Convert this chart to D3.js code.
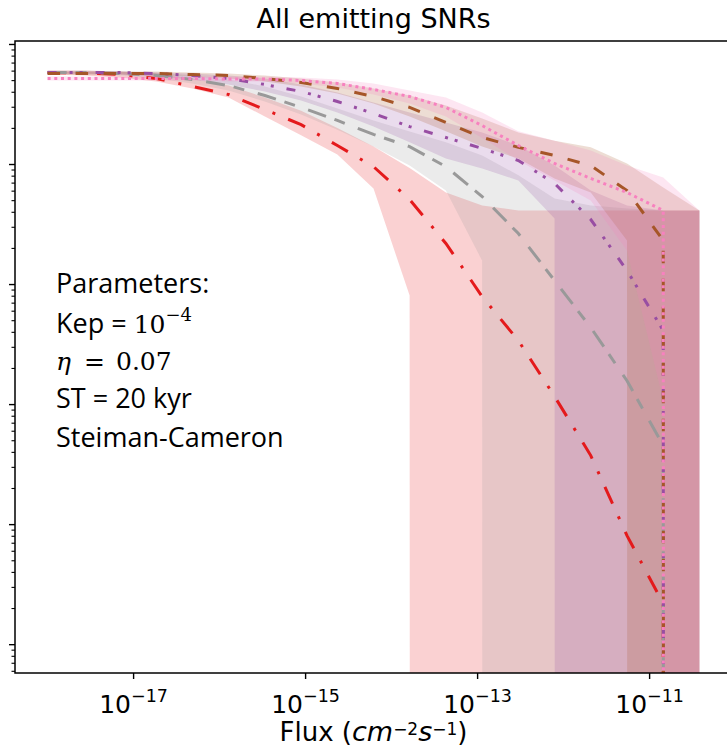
<!DOCTYPE html>
<html>
<head>
<meta charset="utf-8">
<script src="https://cdn.jsdelivr.net/npm/d3@7"></script>
<style>
  body { margin: 0; background: #fff; }
  text { fill: #000; }
</style>
</head>
<body>
<svg id="chart" width="727" height="748"></svg>
<script>
// Flux grid (cm^-2 s^-1)
const flux = [1.00e-18, 2.64e-18, 6.95e-18, 1.83e-17, 4.83e-17, 1.27e-16, 3.36e-16, 8.86e-16,
  2.34e-15, 6.16e-15, 1.62e-14, 4.28e-14, 1.13e-13, 2.98e-13, 7.85e-13, 2.07e-12,
  5.46e-12, 1.44e-11, 3.79e-11];

// Cumulative counts N(>F): mean and band limits for each model curve
const redMean = [584, 579, 562, 521, 447, 383, 287, 215, 144, 96, 51.1, 22.0, 7.94, 3.41, 1.17, 0.376, 0.081, 0.022, 0];
const redLow  = [562, 552, 531, 492, 430, 362, 251, 175, 121, 63.1, 8.1, 0, 0, 0, 0, 0, 0, 0, 0];
const redHigh = [608, 608, 596, 573, 521, 455, 362, 281, 201, 141, 93.5, 58.4, 45.6, 41.4, 41.4, 41.4, 41.4, 41.4, 41.4];

const grayMean = [584, 584, 573, 552, 511, 455, 376, 299, 233, 178, 141, 96, 54.1, 26.6, 10.8, 4.38, 1.58, 0.455, 0];
const grayLow  = [562, 562, 552, 521, 473, 414, 335, 261, 195, 141, 98, 60.7, 15.8, 0, 0, 0, 0, 0, 0];
const grayHigh = [608, 608, 596, 584, 552, 511, 447, 369, 293, 233, 188, 153, 119, 81.3, 52.1, 45.6, 43.0, 41.4, 41.4];

const purpleMean = [584, 584, 584, 573, 552, 521, 464, 406, 335, 266, 207, 168, 136, 108, 69.5, 34.8, 13.1, 4.14, 0];
const purpleLow  = [573, 573, 562, 541, 511, 464, 406, 341, 271, 207, 153, 112, 92.6, 73.6, 35.5, 0, 0, 0, 0];
const purpleHigh = [596, 596, 596, 584, 573, 552, 521, 464, 398, 328, 271, 224, 185, 144, 98, 60.7, 45.6, 41.4, 41.4];

const brownMean = [573, 573, 573, 573, 562, 552, 521, 482, 430, 369, 299, 224, 168, 139, 119, 98, 60.7, 23.3, 0];
const brownLow  = [562, 562, 562, 552, 541, 521, 492, 447, 391, 322, 251, 189, 141, 112, 76.6, 58.4, 23.3, 0, 0];
const brownHigh = [596, 596, 596, 596, 584, 573, 552, 521, 482, 430, 376, 310, 242, 185, 158, 139, 102, 64.3, 41.4];

const pinkMean = [521, 521, 521, 521, 521, 516, 516, 501, 473, 422, 369, 299, 211, 144, 102, 76.6, 58.4, 41.4, 0];
const pinkLow  = [501, 501, 501, 501, 501, 492, 492, 473, 438, 383, 322, 251, 166, 108, 73.6, 50.1, 19.2, 1.08, 0];
const pinkHigh = [541, 541, 541, 541, 541, 541, 541, 531, 511, 473, 414, 362, 271, 189, 158, 131, 98, 77.9, 41.4];

const xTickExponents = [-17, -15, -13, -11];
const yTickExponents = [-3, -2, -1, 0, 1, 2, 3];

const series = [
  { mean: redMean,    low: redLow,    high: redHigh,    color: "#e41a1c", dash: "18.5,14,3,14" },
  { mean: grayMean,   low: grayLow,   high: grayHigh,   color: "#999999", dash: "19,9,11,14" },
  { mean: purpleMean, low: purpleLow, high: purpleHigh, color: "#984ea3", dash: "9,13,3,7,3,13" },
  { mean: brownMean,  low: brownLow,  high: brownHigh,  color: "#a65628", dash: "12.5,15.5" },
  { mean: pinkMean,   low: pinkLow,   high: pinkHigh,   color: "#f781bf", dash: "3,3.7" }
];

const params = ["Parameters:", "Kep = ", "η = 0.07", "ST = 20 kyr", "Steiman-Cameron"];

// ---- layout ----
const svg = d3.select("#chart");
const plotLeft = 15, plotTop = 41, plotW = 717, plotH = 632;
const sansFont = "'Open Sans', 'Noto Sans', sans-serif";
const mathFont = "'DejaVu Sans', sans-serif";
const serifFont = "'DejaVu Serif', serif";

const x = d3.scaleLog().domain([Math.pow(10, -18.379), Math.pow(10, -10.042)]).range([0, plotW]);
const y = d3.scaleLog().domain([Math.pow(10, -2.236), Math.pow(10, 3.029)]).range([plotH, 0]);
// non-positive values are clipped far below the axis, as on a log axis
const yPos = v => v > 0 ? y(v) : plotH + 1e5;

const g = svg.append("g").attr("transform", `translate(${plotLeft},${plotTop})`);

g.append("clipPath").attr("id", "plotClip")
  .append("rect").attr("width", plotW).attr("height", plotH);

const body = g.append("g").attr("clip-path", "url(#plotClip)");

const area = d3.area()
  .x((d, i) => x(flux[i]))
  .y0(d => yPos(d.lo))
  .y1(d => yPos(d.hi));

const line = d3.line()
  .x((d, i) => x(flux[i]))
  .y(d => yPos(d));

series.forEach(s => {
  const pts = s.low.map((lo, i) => ({ lo, hi: s.high[i] }));
  body.append("path")
    .attr("d", area(pts))
    .attr("fill", s.color)
    .attr("fill-opacity", 0.2)
    .attr("stroke", "none");
});

series.forEach(s => {
  body.append("path")
    .attr("d", line(s.mean))
    .attr("fill", "none")
    .attr("stroke", s.color)
    .attr("stroke-width", 3)
    .attr("stroke-dasharray", s.dash);
});

// ---- axes ----
// y ticks: decades and 2..9 minor ticks, no labels
const yDomain = y.domain();
const yMinor = [];
yTickExponents.forEach(e => {
  for (let m = 2; m <= 9; m++) {
    const v = m * Math.pow(10, e);
    if (v >= yDomain[0] && v <= yDomain[1]) yMinor.push(v);
  }
});
const yMajor = yTickExponents.map(e => Math.pow(10, e)).filter(v => v >= yDomain[0] && v <= yDomain[1]);

g.append("g").selectAll("line").data(yMinor).join("line")
  .attr("x1", -3.5).attr("x2", 0)
  .attr("y1", d => y(d)).attr("y2", d => y(d))
  .attr("stroke", "#000").attr("stroke-width", 1.1);
g.append("g").selectAll("line").data(yMajor).join("line")
  .attr("x1", -6).attr("x2", 0)
  .attr("y1", d => y(d)).attr("y2", d => y(d))
  .attr("stroke", "#000").attr("stroke-width", 1.4);

// x ticks every second decade
const xTicks = g.append("g").attr("transform", `translate(0,${plotH})`);
xTicks.selectAll("line").data(xTickExponents).join("line")
  .attr("x1", d => x(Math.pow(10, d))).attr("x2", d => x(Math.pow(10, d)))
  .attr("y1", 0).attr("y2", 6)
  .attr("stroke", "#000").attr("stroke-width", 1.4);

const xLabels = xTicks.selectAll("text").data(xTickExponents).join("text")
  .attr("x", d => x(Math.pow(10, d)))
  .attr("y", 40)
  .attr("text-anchor", "middle")
  .style("font-family", mathFont)
  .style("font-size", "25px");
xLabels.append("tspan").text("10");
xLabels.append("tspan").attr("dy", -11).style("font-size", "17.5px").text(d => "−" + Math.abs(d));

// frame
g.append("rect")
  .attr("width", plotW).attr("height", plotH)
  .attr("fill", "none").attr("stroke", "#000").attr("stroke-width", 1.5);

// ---- titles ----
svg.append("text")
  .attr("x", plotLeft + plotW / 2).attr("y", 28)
  .attr("text-anchor", "middle")
  .style("font-family", "'DejaVu Sans', sans-serif")
  .style("font-size", "27px")
  .text("All emitting SNRs");

const xt = svg.append("text")
  .attr("x", plotLeft + plotW / 2).attr("y", 741)
  .attr("text-anchor", "middle")
  .style("font-family", mathFont)
  .style("font-size", "26px");
xt.append("tspan").text("Flux (");
xt.append("tspan").style("font-style", "italic").style("font-size", "27px").text("cm");
xt.append("tspan").attr("dy", -6).style("font-size", "17px").text("−2");
xt.append("tspan").attr("dy", 6).style("font-style", "italic").style("font-size", "27px").text("s");
xt.append("tspan").attr("dy", -6).style("font-size", "17px").text("−1");
xt.append("tspan").attr("dy", 6).text(")");

// ---- parameter annotation ----
const note = svg.append("g").style("font-family", sansFont).style("font-size", "27px");
const baselines = [293, 333, 370, 408, 447];

note.append("text").attr("x", 56).attr("y", baselines[0]).text(params[0]);

const kep = note.append("text").attr("x", 56).attr("y", baselines[1]);
kep.append("tspan").text(params[1]);
kep.append("tspan").style("font-family", serifFont).style("font-size", "25px").text("10");
kep.append("tspan").attr("dy", -12).style("font-family", serifFont).style("font-size", "18px").text("−4");

const eta = note.append("text").attr("y", baselines[2]).style("font-family", serifFont).style("font-size", "25px");
eta.append("tspan").attr("x", 56).style("font-style", "italic").text("η");
eta.append("tspan").attr("x", 84).text("=");
eta.append("tspan").attr("x", 116).text("0.07");

note.append("text").attr("x", 56).attr("y", baselines[3]).text(params[3]);
note.append("text").attr("x", 56).attr("y", baselines[4]).text(params[4]);
</script>
</body>
</html>
